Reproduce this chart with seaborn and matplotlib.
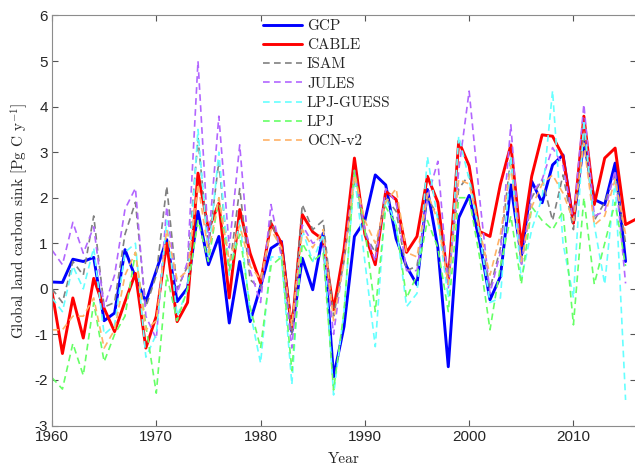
import numpy as np
import pandas as pd
import matplotlib
matplotlib.use("Agg")
import matplotlib.pyplot as plt
import seaborn as sns

# values, Pg C / yr
years = list(range(1960, 2016))
years_cable = list(range(1960, 2017))

gcp = [0.15, 0.14, 0.65, 0.60, 0.69, -0.70, -0.53, 0.86, 0.25, -0.28,
       0.40, 1.08, -0.28, 0.02, 1.70, 0.53, 1.15, -0.75, 0.60, -0.72,
       0.05, 0.89, 1.04, -0.94, 0.67, -0.02, 1.22, -1.93, -0.83, 1.15,
       1.50, 2.50, 2.28, 1.10, 0.49, 0.09, 2.18, 0.90, -1.71, 1.56,
       2.05, 1.05, -0.24, 0.27, 2.28, 0.70, 2.36, 1.89, 2.72, 2.94,
       1.45, 3.24, 1.96, 1.85, 2.76, 0.60]
cable = [-0.06, -1.42, -0.20, -1.08, 0.23, -0.43, -0.94, -0.28, 0.34, -1.30,
         -0.60, 1.00, -0.72, -0.30, 2.54, 1.30, 1.88, -0.20, 1.74, 0.78,
         0.13, 1.44, 1.00, -0.90, 1.63, 1.25, 1.08, -0.46, 0.86, 2.87,
         1.20, 0.53, 2.14, 1.96, 0.80, 1.15, 2.47, 1.90, 0.16, 3.24,
         2.70, 1.26, 1.15, 2.30, 3.16, 0.95, 2.47, 3.38, 3.35, 2.91,
         1.44, 3.79, 1.85, 2.87, 3.09, 1.41, 1.53]
isam = [0.00, -0.30, 0.60, 0.30, 1.60, -0.40, -0.30, 1.20, 1.90, -0.40,
        0.30, 2.25, 0.00, 0.50, 3.30, 0.90, 2.80, 0.40, 2.20, 0.20,
        0.00, 1.50, 0.80, -1.00, 1.85, 1.30, 1.50, -0.60, 0.60, 2.40,
        1.20, 0.80, 2.00, 1.70, 0.40, 0.50, 2.00, 1.60, 0.30, 2.20,
        2.50, 1.30, 0.00, 0.90, 2.90, 0.50, 2.00, 2.40, 1.50, 2.50,
        1.30, 3.40, 1.50, 1.90, 2.50, 1.00]
jules = [0.85, 0.53, 1.46, 0.78, 1.36, -0.40, 0.30, 1.75, 2.21, -0.60,
         -1.10, 1.80, -0.10, 0.60, 5.00, 1.00, 3.79, 0.90, 3.16, 0.40,
         -0.30, 1.85, 0.70, -1.30, 1.40, 1.00, 1.10, -1.00, 0.70, 2.60,
         1.30, 0.60, 2.20, 1.90, 0.40, 0.40, 2.00, 2.80, 0.00, 2.60,
         4.34, 2.00, -0.10, 0.80, 3.60, 0.50, 2.10, 2.40, 3.10, 2.70,
         1.50, 4.05, 1.60, 1.70, 2.60, 0.12]
lpj_guess = [-0.20, -0.50, 0.50, 0.00, 0.90, -1.00, -0.80, 0.80, 1.00, -1.50,
             -1.00, 1.50, -0.60, 0.00, 3.50, 0.70, 3.00, 0.30, 1.50, -0.50,
             -1.63, 0.70, 0.70, -2.10, 1.30, 0.60, 1.20, -2.33, -0.50, 2.50,
             0.60, -1.27, 2.00, 1.40, -0.39, -0.10, 2.90, 1.50, -0.20, 3.35,
             2.40, 1.20, -0.30, -0.20, 2.90, 0.20, 1.30, 2.00, 4.35, 1.00,
             -0.20, 3.70, 1.40, 0.10, 2.40, -2.44]
lpj = [-1.95, -2.20, -1.20, -1.90, -0.30, -1.60, -1.00, -0.60, 0.80, -0.80,
       -2.29, 0.30, -0.70, 0.00, 1.50, 0.60, 2.00, 0.40, 1.20, -0.40,
       -1.30, 0.50, 0.70, -1.80, 1.00, 0.60, 0.80, -2.22, -0.50, 2.60,
       1.30, -0.50, 1.80, 1.40, -0.20, 0.30, 1.50, 0.90, -0.50, 2.00,
       2.00, 0.70, -0.90, 0.50, 1.60, 0.10, 1.80, 1.50, 1.30, 1.70,
       -0.79, 2.00, 0.10, 1.00, 1.90, 0.50]
ocn = [-0.90, -0.90, -0.60, -0.60, -0.20, -1.30, -0.90, 0.30, 0.80, -0.90,
       -0.70, 1.30, 0.20, 0.40, 2.30, 0.80, 2.00, 0.60, 1.40, 0.50,
       0.20, 1.30, 0.90, -0.80, 1.30, 0.90, 1.30, -0.70, 0.60, 2.50,
       1.50, 1.00, 1.90, 2.20, 0.80, 0.70, 2.10, 1.50, 0.10, 2.40,
       2.30, 1.30, 0.30, 1.20, 2.70, 0.60, 1.80, 2.30, 2.50, 2.10,
       1.50, 3.20, 1.40, 1.60, 2.40, 1.20]

sns.set_style("ticks")
plt.rcParams["mathtext.fontset"] = "cm"
plt.rcParams["axes.unicode_minus"] = False

fig = plt.figure(figsize=(6.35, 4.65), dpi=100)
ax = fig.add_axes([52 / 635, 39.5 / 465, 584 / 635, 410 / 465])

series = [
    ("GCP", years, gcp, "#0000ff", "-", 2.1),
    ("CABLE", years_cable, cable, "#ff0000", "-", 2.1),
    ("ISAM", years, isam, "#808080", "--", 1.2),
    ("JULES", years, jules, "#b266ff", "--", 1.2),
    ("LPJ-GUESS", years, lpj_guess, "#66ffff", "--", 1.2),
    ("LPJ", years, lpj, "#66ff66", "--", 1.2),
    ("OCN-v2", years, ocn, "#ffb266", "--", 1.2),
]
for name, xs, ys, col, ls, lw in series:
    sns.lineplot(x=xs, y=ys, ax=ax, color=col, lw=lw, label=name)
    if ls == "--":
        ax.lines[-1].set_dashes((4, 2.6))

ax.set_xlim(1960, 2016)
ax.set_ylim(-3, 6)
ax.set_xticks([1960, 1970, 1980, 1990, 2000, 2010])
ax.set_yticks(range(-3, 7))
ax.tick_params(direction="in", length=4, top=True, right=True,
               color="#555555", labelsize=11, pad=3)
for lab in ax.get_xticklabels() + ax.get_yticklabels():
    lab.set_family("Liberation Sans")
    lab.set_color("#262626")
for sp in ax.spines.values():
    sp.set_color("#8c8c8c")
    sp.set_linewidth(0.8)

ax.set_xlabel("Year", family="cmr10", fontsize=11, color="#262626", labelpad=6)
ax.set_ylabel("Global land carbon sink [Pg C y$^{-1}$]", family="cmr10",
              fontsize=11, color="#262626", labelpad=3)

leg = ax.legend(loc="upper left", bbox_to_anchor=(0.345, 1.013), frameon=False,
                prop={"family": "cmr10", "size": 11}, handlelength=2.6,
                handletextpad=0.3, labelspacing=0.36, borderaxespad=0.2)

fig.savefig("out.png", dpi=100)
